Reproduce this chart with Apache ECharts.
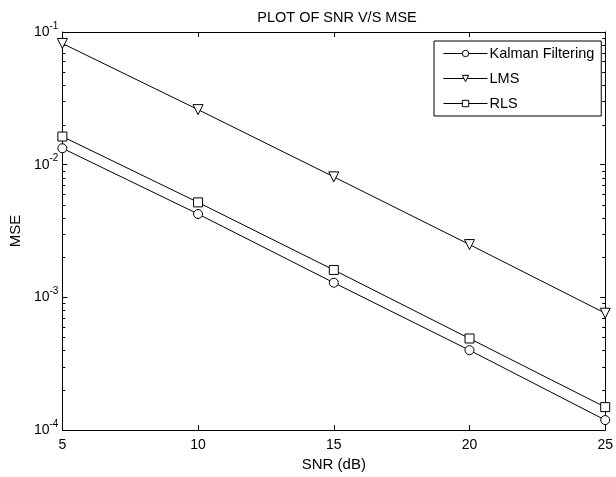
<!DOCTYPE html>
<html>
<head>
<meta charset="utf-8">
<script src="https://cdn.jsdelivr.net/npm/echarts@6/dist/echarts.min.js"></script>
<style>
  html, body { margin: 0; padding: 0; background: #fff; }
  #main { width: 616px; height: 477px; }
</style>
</head>
<body>
<div id="main"></div>
<script>
// SNR values (dB)
var snr = [5, 10, 15, 20, 25];
// MSE
var kalman = [0.0133, 0.00425, 0.00129, 0.000400, 0.000119];
var lms = [0.082, 0.026, 0.0081, 0.0025, 0.00076];
var rls = [0.0163, 0.0052, 0.00161, 0.00049, 0.000149];
// log-axis minor tick positions (2..9 per decade)
var minorTicks = [
  2e-4, 3e-4, 4e-4, 5e-4, 6e-4, 7e-4, 8e-4, 9e-4,
  2e-3, 3e-3, 4e-3, 5e-3, 6e-3, 7e-3, 8e-3, 9e-3,
  2e-2, 3e-2, 4e-2, 5e-2, 6e-2, 7e-2, 8e-2, 9e-2
];

var font = 'Liberation Sans, Arial, sans-serif';

function pairs(ys) {
  return snr.map(function (x, i) { return [x, ys[i]]; });
}

var chart = echarts.init(document.getElementById('main'), null, { renderer: 'canvas' });

var lineBase = {
  type: 'line',
  xAxisIndex: 0,
  yAxisIndex: 0,
  symbolSize: 9,
  color: '#000',
  lineStyle: { color: '#000', width: 1 },
  itemStyle: { color: '#fff', borderColor: '#000', borderWidth: 1 },
  emphasis: { disabled: true },
  animation: false
};

var option = {
  backgroundColor: '#fff',
  animation: false,
  title: {
    text: 'PLOT OF SNR V/S MSE',
    left: 332,
    top: 5,
    textAlign: 'center',
    textStyle: { fontFamily: font, fontSize: 14.5, fontWeight: 'normal', color: '#000' }
  },
  legend: {
    left: 434,
    top: 41,
    orient: 'vertical',
    data: ['Kalman Filtering', 'LMS', 'RLS'],
    itemWidth: 44,
    itemHeight: 8,
    itemGap: 10,
    padding: [5, 7, 5, 9],
    borderColor: '#000',
    borderWidth: 1,
    backgroundColor: '#fff',
    borderRadius: 0,
    lineStyle: { color: '#000', width: 1 },
    itemStyle: { color: '#fff', borderColor: '#000', borderWidth: 1 },
    textStyle: { fontFamily: font, fontSize: 14.5, lineHeight: 15, color: '#000', padding: [0, 0, 0, -3] },
    selectedMode: false
  },
  grid: { left: 61, right: 6, top: 32, bottom: 45, show: false },
  xAxis: [{
    type: 'value',
    min: 5, max: 25, interval: 5,
    name: 'SNR (dB)',
    nameLocation: 'middle',
    nameGap: 26,
    nameTextStyle: { fontFamily: font, fontSize: 15, color: '#000' },
    axisLine: { lineStyle: { color: '#000', width: 1 } },
    axisTick: { inside: true, length: 5, lineStyle: { color: '#000' } },
    axisLabel: { fontFamily: font, fontSize: 14, color: '#000', margin: 8 },
    splitLine: { show: false }
  }, {
    type: 'value',
    position: 'top',
    min: 5, max: 25, interval: 5,
    axisLine: { lineStyle: { color: '#000', width: 1 } },
    axisTick: { inside: true, length: 5, lineStyle: { color: '#000' } },
    axisLabel: { show: false },
    splitLine: { show: false }
  }],
  yAxis: [{
    type: 'log',
    logBase: 10,
    min: 1e-4, max: 1e-1,
    name: 'MSE',
    nameLocation: 'middle',
    nameGap: 38,
    nameTextStyle: { fontFamily: font, fontSize: 15, color: '#000' },
    axisLine: { lineStyle: { color: '#000', width: 1 } },
    axisTick: { inside: true, length: 5, lineStyle: { color: '#000' } },
    axisLabel: {
      margin: 4,
      showMinLabel: true,
      showMaxLabel: true,
      formatter: function (v) {
        var e = Math.round(Math.log10(v));
        return '{b|10}{s|' + e + '}';
      },
      rich: {
        b: { fontFamily: font, fontSize: 14, color: '#000' },
        s: { fontFamily: font, fontSize: 10, color: '#000', padding: [0, 0, 12, 0] }
      }
    },
    splitLine: { show: false }
  }, {
    type: 'log',
    logBase: 10,
    position: 'right',
    min: 1e-4, max: 1e-1,
    axisLine: { lineStyle: { color: '#000', width: 1 } },
    axisTick: { inside: true, length: 5, lineStyle: { color: '#000' } },
    axisLabel: { show: false },
    splitLine: { show: false }
  }],
  series: [
    Object.assign({}, lineBase, { name: 'Kalman Filtering', symbol: 'circle', data: pairs(kalman) }),
    Object.assign({}, lineBase, { name: 'LMS', symbol: 'triangle', symbolRotate: 180, symbolSize: 10, data: pairs(lms) }),
    Object.assign({}, lineBase, { name: 'RLS', symbol: 'rect', data: pairs(rls) }),
    {
      type: 'custom',
      name: 'minor',
      xAxisIndex: 0,
      yAxisIndex: 0,
      silent: true,
      clip: false,
      data: minorTicks.map(function (v) { return [5, v]; }),
      renderItem: function (params, api) {
        var p = api.coord([5, api.value(1)]);
        var cs = params.coordSys;
        var x0 = cs.x, x1 = cs.x + cs.width;
        var y = Math.round(p[1]) + 0.5;
        var st = { stroke: '#000', lineWidth: 1 };
        return {
          type: 'group',
          children: [
            { type: 'line', shape: { x1: x0, y1: y, x2: x0 + 3, y2: y }, style: st },
            { type: 'line', shape: { x1: x1 - 3, y1: y, x2: x1, y2: y }, style: st }
          ]
        };
      }
    }
  ]
};

chart.setOption(option);
</script>
</body>
</html>
